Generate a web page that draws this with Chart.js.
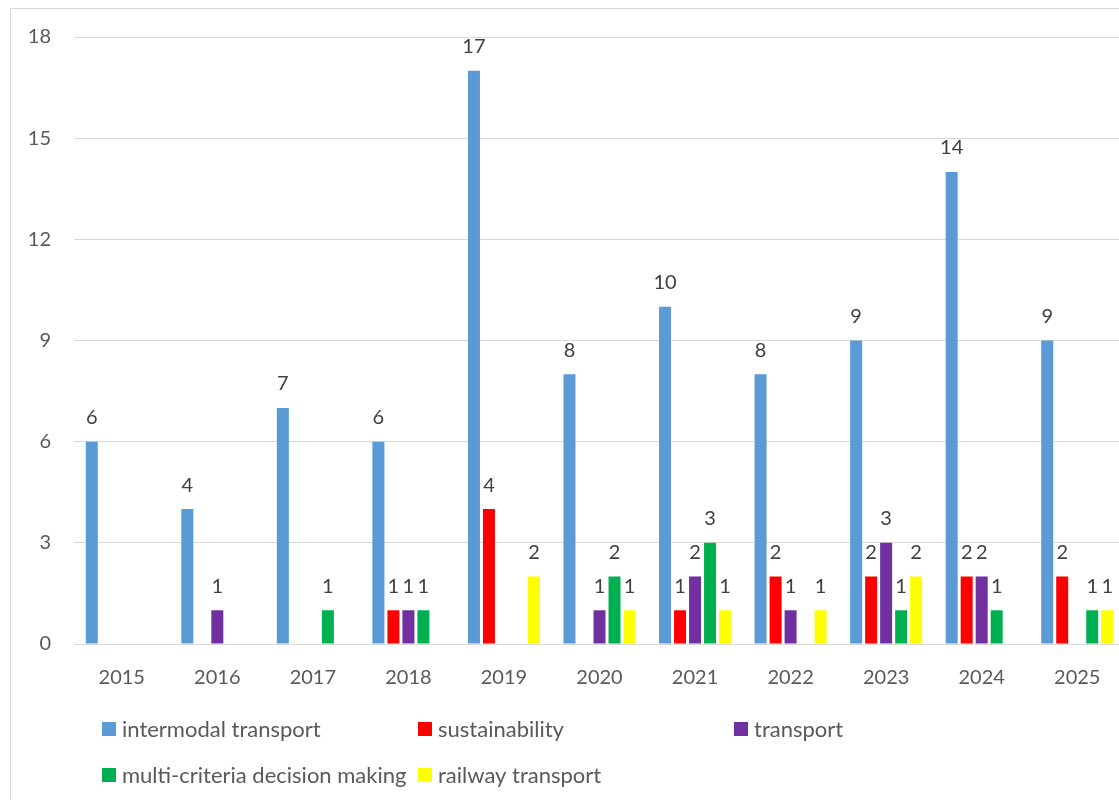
<!DOCTYPE html>
<html>
<head>
<meta charset="utf-8">
<script src="https://cdn.jsdelivr.net/npm/chart.js@4.4.1/dist/chart.umd.min.js"></script>
<style>
  html, body { margin: 0; padding: 0; background: #fff; overflow: hidden; }
  #frame {
    position: absolute; left: 10px; top: 8px; width: 1200px; height: 900px;
    border: 1px solid #d9d9d9; box-sizing: border-box;
  }
  #wrap { position: absolute; left: 0; top: 0; width: 1130px; height: 800px; }
</style>
</head>
<body>
<div id="frame"></div>
<div id="wrap"><canvas id="myChart" width="1130" height="800"></canvas></div>
<script>
// Años
const years = ["2015", "2016", "2017", "2018", "2019", "2020", "2021", "2022", "2023", "2024", "2025"];

// Series
const intermodal = [6, 4, 7, 6, 17, 8, 10, 8, 9, 14, 9];
const sustainability = [0, 0, 0, 1, 4, 0, 1, 2, 2, 2, 2];
const transport = [0, 1, 0, 1, 0, 1, 2, 1, 3, 2, 0];
const multiCriteria = [0, 0, 1, 1, 0, 2, 3, 0, 1, 1, 1];
const railway = [0, 0, 0, 0, 2, 1, 1, 1, 2, 0, 1];

const seriesNames = [
  "intermodal transport",
  "sustainability",
  "transport",
  "multi-criteria decision making",
  "railway transport",
];
const seriesColors = ["#5b9bd5", "#ff0000", "#7030a0", "#00b050", "#ffff00"];

// Ticks del eje Y
const yTicks = [0, 3, 6, 9, 12, 15, 18];

const FONT = 'Lato, "Open Sans", sans-serif';

const chartData = {
  labels: years,
  datasets: [intermodal, sustainability, transport, multiCriteria, railway].map((vals, i) => ({
    label: seriesNames[i],
    data: vals,
    backgroundColor: seriesColors[i],
    borderWidth: 0,
    categoryPercentage: 0.785,
    barPercentage: 0.8,
  })),
};

/* Etiquetas de valor arriba de cada barra (sin los ceros) */
const valueLabels = {
  id: 'valueLabels',
  afterDatasetsDraw(chart) {
    const ctx = chart.ctx;
    ctx.save();
    ctx.font = '20px ' + FONT;
    ctx.fillStyle = '#404040';
    ctx.textAlign = 'center';
    ctx.textBaseline = 'middle';
    chart.data.datasets.forEach((ds, i) => {
      const meta = chart.getDatasetMeta(i);
      meta.data.forEach((bar, j) => {
        const v = ds.data[j];
        if (!v) return;
        ctx.fillText(String(v), bar.x, bar.y - 24);
      });
    });
    ctx.restore();
  }
};

/* Leyenda tipo grilla, como la de Excel */
const gridLegend = {
  id: 'gridLegend',
  afterDraw(chart) {
    const ctx = chart.ctx;
    ctx.save();
    ctx.font = '22px ' + FONT;
    ctx.textBaseline = 'middle';
    ctx.textAlign = 'left';
    chart.data.datasets.forEach((ds, i) => {
      const col = i % 3;
      const row = Math.floor(i / 3);
      const x = 102 + col * 316;
      const y = 729 + row * 46;
      ctx.fillStyle = ds.backgroundColor;
      ctx.fillRect(x, y - 7, 14, 14);
      ctx.fillStyle = '#595959';
      ctx.fillText(ds.label, x + 20, y + 1);
    });
    ctx.restore();
  }
};

const ctx = document.getElementById('myChart').getContext('2d');

const myBarChart = new Chart(ctx, {
  type: 'bar',
  data: chartData,
  plugins: [valueLabels, gridLegend],
  options: {
    responsive: false,
    animation: false,
    layout: { padding: { top: 37, right: 5, bottom: 0, left: 0 } },
    plugins: {
      legend: { display: false },
      tooltip: { enabled: false },
    },
    scales: {
      x: {
        grid: { display: false, drawTicks: false },
        border: { display: false },
        ticks: {
          color: '#595959',
          font: { family: FONT, size: 20 },
          padding: 22,
          maxRotation: 0,
        },
        afterFit: (scale) => { scale.height = 156; },
      },
      y: {
        min: 0,
        max: 18,
        afterBuildTicks: (scale) => { scale.ticks = yTicks.map(v => ({ value: v })); },
        grid: { color: '#d9d9d9', lineWidth: 1, drawTicks: false },
        border: { display: false },
        ticks: {
          color: '#595959',
          font: { family: FONT, size: 20 },
          padding: 23,
        },
        afterFit: (scale) => { scale.width = 74; },
      },
    },
  },
});
</script>
</body>
</html>
